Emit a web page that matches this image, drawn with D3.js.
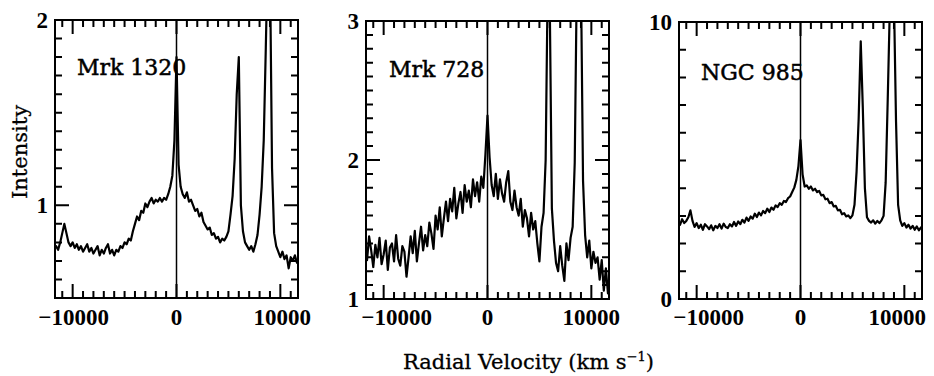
<!DOCTYPE html>
<html>
<head>
<meta charset="utf-8">
<script src="https://cdn.jsdelivr.net/npm/d3@7"></script>
<style>
  body { margin: 0; background: #fff; }
  svg { display: block; }
</style>
</head>
<body>
<div id="chart"></div>
<script>
var width = 934;
var height = 376;

// radial velocity grid (km/s), shared by the three spectra
var velocity = [
  -11800, -11600, -11400, -11200, -11000, -10800, -10600, -10400, -10200, -10000,
  -9800, -9600, -9400, -9200, -9000, -8800, -8600, -8400, -8200, -8000,
  -7800, -7600, -7400, -7200, -7000, -6800, -6600, -6400, -6200, -6000,
  -5800, -5600, -5400, -5200, -5000, -4800, -4600, -4400, -4200, -4000,
  -3800, -3600, -3400, -3200, -3000, -2800, -2600, -2400, -2200, -2000,
  -1800, -1600, -1400, -1200, -1000, -800, -600, -400, -200, 0,
  200, 400, 600, 800, 1000, 1200, 1400, 1600, 1800, 2000,
  2200, 2400, 2600, 2800, 3000, 3200, 3400, 3600, 3800, 4000,
  4200, 4400, 4600, 4800, 5000, 5200, 5400, 5600, 5800, 6000,
  6200, 6400, 6600, 6800, 7000, 7200, 7400, 7600, 7800, 8000,
  8200, 8400, 8600, 8800, 9000, 9200, 9400, 9600, 9800, 10000,
  10200, 10400, 10600, 10800, 11000, 11200, 11400, 11600, 11800
];

var mrk1320 = [
  0.77, 0.78, 0.76, 0.80, 0.85, 0.90, 0.85, 0.80, 0.78, 0.80,
  0.77, 0.79, 0.76, 0.78, 0.75, 0.77, 0.79, 0.75, 0.77, 0.74,
  0.76, 0.78, 0.73, 0.76, 0.74, 0.77, 0.79, 0.74, 0.76, 0.73,
  0.76, 0.75, 0.78, 0.77, 0.80, 0.79, 0.82, 0.81, 0.86, 0.90,
  0.94, 0.92, 0.97, 0.96, 1.01, 0.99, 1.02, 1.04, 1.01, 1.03,
  1.02, 1.04, 1.02, 1.04, 1.03, 1.06, 1.10, 1.16, 1.35, 1.80,
  1.22, 1.10, 1.06, 1.04, 1.07, 1.02, 1.03, 1.00, 0.97, 0.98,
  0.94, 0.96, 0.91, 0.89, 0.87, 0.88, 0.84, 0.85, 0.82, 0.83,
  0.80, 0.82, 0.81, 0.83, 0.86, 0.95, 1.05, 1.25, 1.60, 1.80,
  1.00, 0.86, 0.80, 0.78, 0.76, 0.78, 0.75, 0.79, 0.84, 0.95,
  1.10, 1.35, 1.85, 2.40, 2.30, 1.20, 0.85, 0.78, 0.75, 0.72,
  0.75, 0.71, 0.73, 0.66, 0.72, 0.70, 0.73, 0.69, 0.70
];

var mrk728 = [
  1.41, 1.28, 1.45, 1.35, 1.23, 1.39, 1.30, 1.44, 1.25, 1.32,
  1.42, 1.21, 1.37, 1.40, 1.27, 1.46, 1.29, 1.24, 1.38, 1.34,
  1.16, 1.30, 1.45, 1.33, 1.49, 1.27, 1.40, 1.52, 1.35, 1.46,
  1.38, 1.55, 1.47, 1.36, 1.60, 1.50, 1.66, 1.45, 1.58, 1.70,
  1.56, 1.72, 1.63, 1.80, 1.58, 1.69, 1.77, 1.62, 1.82, 1.70,
  1.78, 1.66, 1.86, 1.74, 1.84, 1.70, 1.88, 1.80, 2.04, 2.32,
  2.02, 1.82, 1.74, 1.90, 1.72, 1.86, 1.76, 1.70, 1.84, 1.92,
  1.70, 1.64, 1.78, 1.66, 1.60, 1.72, 1.52, 1.64, 1.58, 1.45,
  1.62, 1.50, 1.56, 1.40, 1.27, 1.52, 1.62, 2.00, 3.30, 3.10,
  1.65, 1.42, 1.26, 1.20, 1.38, 1.24, 1.13, 1.40, 1.28, 1.44,
  1.52, 1.98, 3.30, 3.40, 3.30, 1.85, 1.46, 1.30, 1.42, 1.22,
  1.34, 1.26, 1.30, 1.14, 1.28, 1.06, 1.22, 1.04, 1.14
];

var ngc985 = [
  2.80, 2.68, 2.88, 2.74, 2.82, 2.95, 3.20, 2.82, 2.60, 2.74,
  2.56, 2.68, 2.50, 2.70, 2.62, 2.52, 2.66, 2.48, 2.64, 2.56,
  2.70, 2.54, 2.72, 2.60, 2.56, 2.70, 2.62, 2.78, 2.64, 2.80,
  2.70, 2.86, 2.76, 2.94, 2.82, 2.98, 2.90, 3.08, 2.96, 3.12,
  3.02, 3.18, 3.10, 3.26, 3.14, 3.30, 3.22, 3.38, 3.32, 3.46,
  3.40, 3.54, 3.50, 3.64, 3.70, 3.86, 4.02, 4.30, 4.80, 5.74,
  4.50, 4.06, 4.10, 3.98, 4.06, 3.92, 3.98, 3.86, 3.90, 3.74,
  3.76, 3.60, 3.62, 3.46, 3.50, 3.34, 3.36, 3.20, 3.22, 3.06,
  3.10, 2.98, 3.02, 2.92, 3.02, 3.40, 4.60, 6.50, 9.30, 6.90,
  4.00, 2.95, 2.82, 2.76, 2.84, 2.72, 2.82, 2.74, 2.84, 3.00,
  4.20, 7.20, 10.5, 11.0, 10.8, 6.40, 3.40, 2.84, 2.64, 2.74,
  2.58, 2.68, 2.54, 2.64, 2.50, 2.62, 2.48, 2.58, 2.50
];

var galaxyNames = ["Mrk 1320", "Mrk 728", "NGC 985"];
var xDomain = [-11700, 11700];
var yDomains = [[0.5, 2], [1, 3], [0, 10]];

var xMajorTicks = [-10000, 0, 10000];
var xMinorTicks = [-11000, -9000, -8000, -7000, -6000, -5000, -4000, -3000, -2000, -1000,
                   1000, 2000, 3000, 4000, 5000, 6000, 7000, 8000, 9000, 11000];
var xTickLabels = ["\u221210000", "0", "10000"];

var yMajorTicks = [[1, 2], [1, 2, 3], [0, 10]];
var yMinorTicks = [
  [0.6, 0.7, 0.8, 0.9, 1.1, 1.2, 1.3, 1.4, 1.5, 1.6, 1.7, 1.8, 1.9],
  [1.1, 1.2, 1.3, 1.4, 1.5, 1.6, 1.7, 1.8, 1.9, 2.1, 2.2, 2.3, 2.4, 2.5, 2.6, 2.7, 2.8, 2.9],
  [1, 2, 3, 4, 5, 6, 7, 8, 9]
];
var yTickLabels = [["1", "2"], ["1", "2", "3"], ["0", "10"]];

// panel frames in pixels
var frames = [
  { left: 55, top: 20, width: 243, height: 278 },
  { left: 366, top: 21, width: 243, height: 278 },
  { left: 679, top: 22, width: 243, height: 277 }
];
// small horizontal nudges of the x tick labels, as in the original plot
var xLabelShift = [[1, 0, 2], [13, 0, 0], [12, 0, -7]];

var tickFont = "'Liberation Serif', serif";
var titleFont = "'DejaVu Serif', serif";

function createSVG(width, height) {
  return d3.select("#chart")
    .append("svg")
    .attr("width", width)
    .attr("height", height);
}

// all tick marks of one panel as a single path, pointing inward
function tickPath(x, y, xVals, yVals, len) {
  var w = x.range()[1], h = y.range()[0];
  var p = d3.path();
  xVals.forEach(function(d) {
    p.moveTo(x(d), h); p.lineTo(x(d), h - len);   // bottom
    p.moveTo(x(d), 0); p.lineTo(x(d), len);       // top
  });
  yVals.forEach(function(d) {
    p.moveTo(0, y(d)); p.lineTo(len, y(d));       // left
    p.moveTo(w, y(d)); p.lineTo(w - len, y(d));   // right
  });
  return p.toString();
}

function drawPanel(svg, i, values) {
  var f = frames[i];
  var x = d3.scaleLinear().domain(xDomain).range([0, f.width]);
  var y = d3.scaleLinear().domain(yDomains[i]).range([f.height, 0]);

  var g = svg.append("g")
    .attr("transform", "translate(" + f.left + "," + f.top + ")");

  g.append("clipPath").attr("id", "clip" + i)
    .append("rect").attr("width", f.width).attr("height", f.height);

  // galaxy name (drawn first so the spectrum sits on top)
  g.append("text")
    .attr("x", [22, 23, 22][i])
    .attr("y", [55, 56, 58][i])
    .style("font-family", titleFont)
    .style("font-size", "22px")
    .style("stroke", "#000")
    .style("stroke-width", 0.5)
    .text(galaxyNames[i]);

  // zero-velocity line
  g.append("line")
    .attr("x1", x(0)).attr("x2", x(0))
    .attr("y1", 0).attr("y2", f.height)
    .attr("stroke", "#000").attr("stroke-width", 1.5);

  var line = d3.line()
    .x(function(d, k) { return x(velocity[k]); })
    .y(function(d) { return y(d); });

  g.append("path")
    .datum(values)
    .attr("clip-path", "url(#clip" + i + ")")
    .attr("d", line)
    .attr("fill", "none")
    .attr("stroke", "#000")
    .attr("stroke-width", 2.2)
    .attr("stroke-linejoin", "round");

  g.append("path")
    .attr("d", tickPath(x, y, xMinorTicks, yMinorTicks[i], 7) +
               tickPath(x, y, xMajorTicks, yMajorTicks[i], 14))
    .attr("fill", "none")
    .attr("stroke", "#000")
    .attr("stroke-width", 2);

  g.append("rect")
    .attr("width", f.width).attr("height", f.height)
    .attr("fill", "none").attr("stroke", "#000").attr("stroke-width", 2);

  // tick labels
  g.selectAll(null).data(xMajorTicks).enter().append("text")
    .attr("x", function(d, k) { return x(d) + xLabelShift[i][k]; })
    .attr("y", 325 - f.top)
    .attr("text-anchor", "middle")
    .style("font-family", tickFont)
    .style("font-size", "23px")
    .style("font-weight", "bold")
    .text(function(d, k) { return xTickLabels[k]; });

  g.selectAll(null).data(yMajorTicks[i]).enter().append("text")
    .attr("x", -7)
    .attr("y", function(d) { return y(d); })
    .attr("dy", "0.35em")
    .attr("text-anchor", "end")
    .style("font-family", tickFont)
    .style("font-size", "23px")
    .style("font-weight", "bold")
    .text(function(d, k) { return yTickLabels[i][k]; });
}

function drawTitles(svg) {
  svg.append("text")
    .attr("transform", "translate(27,152) rotate(-90)")
    .attr("text-anchor", "middle")
    .style("font-family", titleFont)
    .style("font-size", "21px")
    .style("stroke", "#000")
    .style("stroke-width", 0.3)
    .text("Intensity");

  var t = svg.append("text")
    .attr("x", 403)
    .attr("y", 369)
    .style("font-family", titleFont)
    .style("font-size", "21px")
    .style("stroke", "#000")
    .style("stroke-width", 0.3);
  t.append("tspan").text("Radial Velocity (km s");
  t.append("tspan").attr("dy", -8).style("font-size", "13px").text("\u22121");
  t.append("tspan").attr("dy", 8).text(")");
}

function main() {
  var svg = createSVG(width, height);
  drawPanel(svg, 0, mrk1320);
  drawPanel(svg, 1, mrk728);
  drawPanel(svg, 2, ngc985);
  drawTitles(svg);
}

window.onload = function() {
  main();
};
</script>
</body>
</html>
